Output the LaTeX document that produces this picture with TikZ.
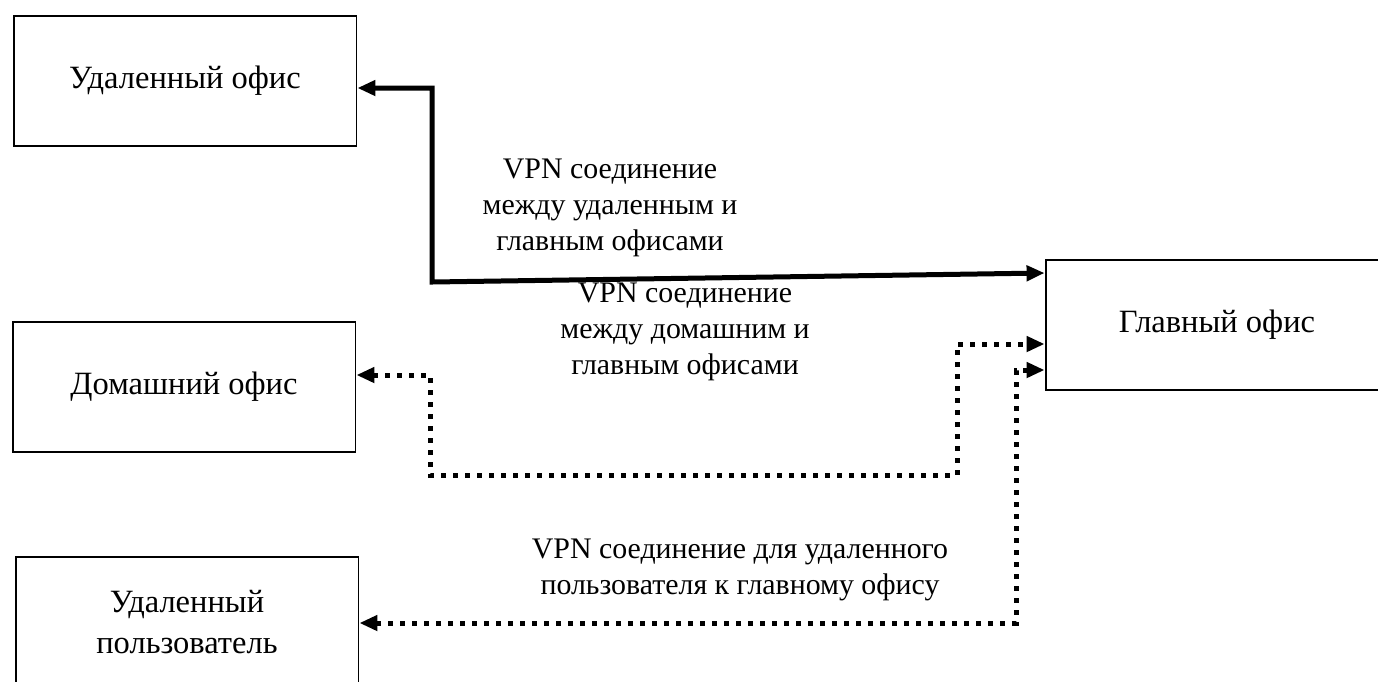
\documentclass[tikz,border=0pt]{standalone}
\usepackage{fontspec}
\setmainfont{Liberation Serif}
\usetikzlibrary{arrows.meta}

\tikzset{
  office/.style={draw, line width=1.1pt, inner sep=0pt, minimum width=6.86cm, minimum height=2.6cm, align=center, font=\fontsize{18.5}{23}\selectfont},
  vpnlabel/.style={align=center, font=\fontsize{17}{20.5}\selectfont},
  vpnsolid/.style={line width=0.1cm, {Triangle[length=0.36cm,width=0.3cm]}-{Triangle[length=0.36cm,width=0.3cm]}},
  vpndotted/.style={line width=0.1cm, dash pattern=on 0.1cm off 0.14cm, {Triangle[length=0.36cm,width=0.3cm]}-{Triangle[length=0.36cm,width=0.3cm]}}
}

\begin{document}
\begin{tikzpicture}[x=0.02cm, y=-0.02cm]
    \useasboundingbox (0,0) rectangle (1378,681);
    \node[office] (remote) at (185,81) {Удаленный офис};
    \node[office] (home) at (184,387) {Домашний офис};
    \node[office] (user) at (187,622) {Удаленный\\пользователь};
    \node[office] (main) at (1217,325) {Главный офис};

    \node[vpnlabel] (l1) at (610,208) {VPN соединение\\между удаленным и\\главным офисами};
    \node[vpnlabel] (l2) at (685,332) {VPN соединение\\между домашним и\\главным офисами};
    \node[vpnlabel] (l3) at (740,570) {VPN соединение для удаленного\\пользователя к главному офису};

    % solid line
    \coordinate (a1) at (432,88);
    \coordinate (a2) at (432,282);
    \coordinate (a3) at (1046,273);
    \draw[vpnsolid] (a1 -| remote.east) -- (a1) -- (a2) -- (a3 -| main.west);

    % dotted lines
    \coordinate (b1) at (430,375);
    \coordinate (b2) at (430,475);
    \coordinate (b3) at (957,475);
    \coordinate (b4) at (957,344);
    \draw[vpndotted] (b1 -| home.east) -- (b1) -- (b2) -- (b3) -- (b4) -- (b4 -| main.west);
    \coordinate (d1) at (1016,623);
    \coordinate (d2) at (1016,370);
    \draw[vpndotted] (d1 -| user.east) -- (d1) -- (d2) -- (d2 -| main.west);
  \end{tikzpicture}
\end{document}
